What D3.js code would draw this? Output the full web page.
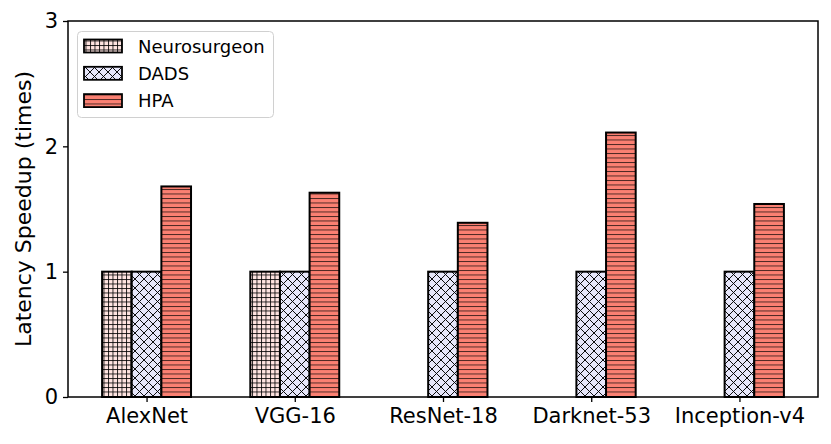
<!DOCTYPE html>
<html>
<head>
<meta charset="utf-8">
<script src="https://cdn.jsdelivr.net/npm/d3@7"></script>
<style>
body { margin: 0; background: #fff; }
text { font-family: "DejaVu Sans", sans-serif; fill: #000; }
</style>
</head>
<body>
<div id="chart"></div>
<script>
// data
var models = ["AlexNet", "VGG-16", "ResNet-18", "Darknet-53", "Inception-v4"];
var neurosurgeon = [1, 1, 0, 0, 0];
var dads = [1, 1, 1, 1, 1];
var hpa = [1.68, 1.63, 1.39, 2.11, 1.54];
var seriesNames = ["Neurosurgeon", "DADS", "HPA"];
var yTicks = [0, 1, 2, 3];

var w = 831, h = 444;
// plot box (note: "top" is taken by window.top)
var plotL = 68, plotR = 818, plotT = 21, plotB = 397;
var barW = 0.2;

var svg = d3.select("#chart").append("svg")
    .attr("width", w)
    .attr("height", h);

var x = d3.scaleLinear().domain([-0.53, 4.53]).range([plotL, plotR]);
var y = d3.scaleLinear().domain([0, 3]).range([plotB, plotT]);

// hatch patterns
var defs = svg.append("defs");
var g = 4.5, dg = 9;

var p1 = defs.append("pattern").attr("id", "hNeuro")
    .attr("patternUnits", "userSpaceOnUse").attr("width", g).attr("height", g);
p1.append("rect").attr("width", g).attr("height", g).attr("fill", "#ffe4e1");
p1.append("path").attr("d", "M0,0.5H" + g + "M0.5,0V" + g)
    .attr("stroke", "#000").attr("stroke-width", 0.9).attr("stroke-opacity", 0.9);

var p2 = defs.append("pattern").attr("id", "hDads")
    .attr("patternUnits", "userSpaceOnUse").attr("width", dg).attr("height", dg);
p2.append("rect").attr("width", dg).attr("height", dg).attr("fill", "#e6e6fa");
p2.append("path").attr("d", "M0,0L" + dg + "," + dg + "M" + dg + ",0L0," + dg)
    .attr("stroke", "#000").attr("stroke-width", 1).attr("stroke-opacity", 0.95);

var p3 = defs.append("pattern").attr("id", "hHpa")
    .attr("patternUnits", "userSpaceOnUse").attr("width", g).attr("height", g);
p3.append("rect").attr("width", g).attr("height", g).attr("fill", "#fa8072");
p3.append("path").attr("d", "M0,0.5H" + g)
    .attr("stroke", "#000").attr("stroke-width", 0.9).attr("stroke-opacity", 0.75);

var fills = ["url(#hNeuro)", "url(#hDads)", "url(#hHpa)"];
var allSeries = [neurosurgeon, dads, hpa];

// bars
allSeries.forEach(function (vals, s) {
    svg.append("g").selectAll("rect")
        .data(vals)
        .enter()
        .append("rect")
        .attr("x", function (d, i) { return x(i + (s - 1) * barW - barW / 2); })
        .attr("y", function (d) { return y(d); })
        .attr("width", x(barW) - x(0))
        .attr("height", function (d) { return y(0) - y(d); })
        .attr("fill", fills[s])
        .attr("stroke", "#000")
        .attr("stroke-width", 2);
});

// axes
var yAxis = svg.append("g")
    .attr("transform", "translate(" + plotL + ",0)")
    .call(d3.axisLeft(y).tickValues(yTicks).tickFormat(d3.format("d")).tickSize(5).tickPadding(5));
var xAxis = svg.append("g")
    .attr("transform", "translate(0," + plotB + ")")
    .call(d3.axisBottom(x).tickValues(d3.range(models.length))
        .tickFormat(function (d) { return models[d]; }).tickSize(5).tickPadding(6));

[xAxis, yAxis].forEach(function (a) {
    a.select(".domain").remove();
    a.selectAll("line").attr("stroke", "#000").attr("stroke-width", 1.3);
    a.selectAll("text").attr("font-size", 21).attr("font-family", "DejaVu Sans");
});

// frame
svg.append("rect")
    .attr("x", plotL).attr("y", plotT)
    .attr("width", plotR - plotL).attr("height", plotB - plotT)
    .attr("fill", "none").attr("stroke", "#000").attr("stroke-width", 1.5);

// y label
svg.append("text")
    .attr("transform", "translate(31," + ((plotT + plotB) / 2) + ") rotate(-90)")
    .attr("text-anchor", "middle")
    .attr("font-size", 22)
    .text("Latency Speedup (times)");

// legend
var lg = svg.append("g");
lg.append("rect")
    .attr("x", 77.5).attr("y", 31.5).attr("width", 196).attr("height", 86)
    .attr("rx", 4).attr("fill", "#fff").attr("fill-opacity", 0.8)
    .attr("stroke", "#d0d0d0").attr("stroke-width", 1);
seriesNames.forEach(function (name, i) {
    var yy = 39.5 + i * 27.3;
    lg.append("rect")
        .attr("x", 84).attr("y", yy).attr("width", 38).attr("height", 13)
        .attr("fill", fills[i]).attr("stroke", "#000").attr("stroke-width", 1.8);
    lg.append("text")
        .attr("x", 138).attr("y", yy + 13)
        .attr("font-size", 18)
        .text(name);
});
</script>
</body>
</html>
